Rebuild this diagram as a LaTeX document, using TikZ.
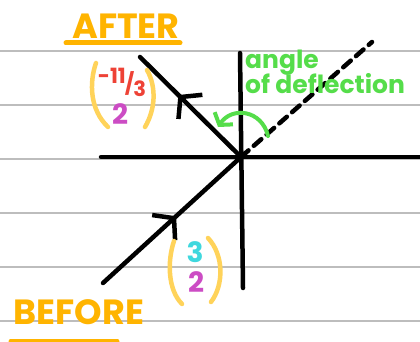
\documentclass[tikz,border=0pt]{standalone}
\usepackage{fontspec}
\setmainfont{Poppins}
\usetikzlibrary{arrows.meta,decorations.markings}

\definecolor{titleorange}{HTML}{FFB400}
\definecolor{parenyellow}{HTML}{FFD35A}
\definecolor{fracred}{HTML}{EE4236}
\definecolor{entrypink}{HTML}{CC4CC4}
\definecolor{entrycyan}{HTML}{3FD8DE}
\definecolor{notegreen}{HTML}{55DD4A}
\definecolor{rulegray}{HTML}{BDBDBD}

\tikzset{
  ruled/.style={rulegray, line width=1.5pt},
  axis/.style={black, line width=4.5pt, line cap=round},
  ray/.style={axis, postaction={decorate},
    decoration={markings, mark=at position #1 with
      {\arrow{Straight Barb[length=14pt,width=34pt,line width=4.5pt]}}}},
  title/.style={titleorange, inner sep=0pt, font=\bfseries\fontsize{35}{35}\selectfont},
  uline/.style={titleorange, line width=5pt, line cap=round},
  paren/.style={parenyellow, line width=4.5pt, line cap=round},
  entry/.style={inner sep=0pt, font=\bfseries\fontsize{28}{28}\selectfont},
  note/.style={notegreen, inner sep=0pt, align=left,
    font=\bfseries\fontsize{25}{25}\selectfont}
}

\begin{document}
\begin{tikzpicture}[x=1pt, y=-1pt, >=Stealth]
\fill[white] (0,0) rectangle (420,342);
\useasboundingbox (0,0) rectangle (420,342);

% ruled paper
\foreach \y in {51,105,...,321}{
    \draw[ruled] (0,\y) -- (420,\y);
}

% axes
\coordinate (O)  at (241,157);
\coordinate (xl) at (101,157);
\coordinate (xr) at (424,157);
\coordinate (yt) at (240,53);
\coordinate (yb) at (243,288);
\draw[axis] (xl) -- (xr);
\draw[axis] (yt) -- (yb);

% paths of the ball
\coordinate (inA)  at (103,283);
\coordinate (outB) at (140,57);
\coordinate (extC) at (372,42);
\draw[ray=0.53] (inA) -- (O);
\draw[ray=0.62] (O) -- (outB);
\draw[axis, dash pattern=on 10pt off 7pt] (O) -- (extC);

% angle of deflection
\coordinate (arcS) at (268,136);
\coordinate (arcE) at (218,127);
\draw[notegreen, line width=4pt, line cap=round,
      -{Straight Barb[length=8pt,width=22pt,line width=4pt]}]
    (arcS) .. controls (262,110) and (232,106) .. (arcE);
\node[note, anchor=north west] (note) at (245,50) {angle\\[-3pt]of deflection};

% titles
\node[title] (after)  at (126,26)  {AFTER};
\node[title] (before) at (79,312) {BEFORE};
\draw[uline] (66,43) -- (180,43);
\draw[uline] (11,341) -- (117,341);

% after vector
\node[entry, fracred] (ux) at (122,82)
    {\fontsize{21}{21}\selectfont\raisebox{8pt}{-11}\kern-1pt/\kern-1pt\raisebox{-5pt}{3}};
\node[entry, entrypink] (uy) at (120,114) {2};
\draw[paren] (96,63) .. controls (89,83) and (90,110) .. (108,127);
\draw[paren] (147,70) .. controls (157,88) and (155,110) .. (145,127);

% before vector
\node[entry, entrycyan] (vx) at (195,252) {3};
\node[entry, entrypink] (vy) at (196,282) {2};
\draw[paren] (174,241) .. controls (167,262) and (168,290) .. (182,304);
\draw[paren] (208,238) .. controls (224,255) and (224,285) .. (211,302);
\end{tikzpicture}
\end{document}
